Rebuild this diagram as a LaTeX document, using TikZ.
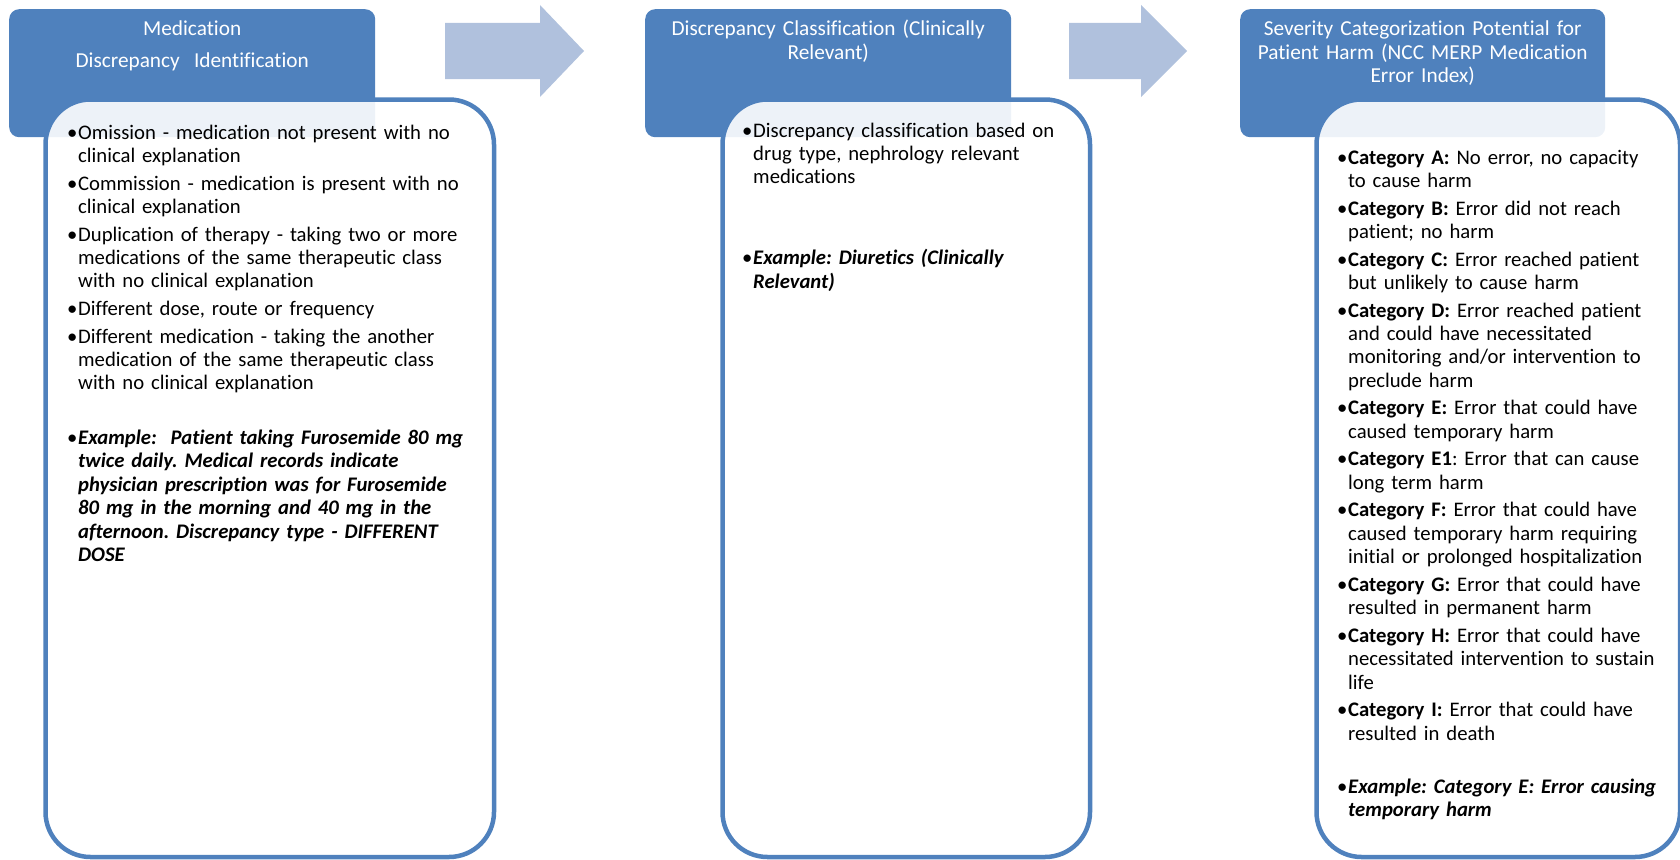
\documentclass[tikz,border=0pt]{standalone}
\usepackage{fontspec}
\setmainfont{Carlito}[Ligatures=NoCommon]
\usetikzlibrary{positioning}
\definecolor{hdrblue}{HTML}{4F81BD}
\definecolor{arrblue}{HTML}{B0C1DD}
% bullet paragraphs with hanging indent
\newcommand{\fitem}{\noindent\hangindent=11pt\hangafter=1\makebox[11pt][l]{\textbullet}}
\newcommand{\bitem}{\par\vspace{4.2pt}\fitem}
\newcommand{\nl}{\hfil\break}
\newcommand{\exm}[1]{\textbf{\textit{#1}}}

\begin{document}
\frenchspacing
\begin{tikzpicture}[x=1pt,y=-1pt,
  hdrbox/.style={fill=hdrblue, rounded corners=10pt, anchor=north west},
  bodybox/.style={draw=hdrblue, line width=4.5pt, fill=white, fill opacity=0.9,
    rounded corners=45pt, anchor=north west},
  title/.style={text=white, text width=#1, align=center, anchor=base},
  bodytext/.style={text width=#1, anchor=base west,
    font=\fontsize{20.7}{23.4}\selectfont, execute at begin node=\raggedright}]
\tikzstyle{every node}+=[inner sep=0pt, font=\fontsize{21.3}{23.4}\selectfont]
\useasboundingbox (0,0) rectangle (1680,859);
% headers
\node[hdrbox, minimum width=366pt, minimum height=128pt] (hdr1) at (9,9) {};
\node[hdrbox, minimum width=366pt, minimum height=128pt] (hdr2) at (645,9) {};
\node[hdrbox, minimum width=365pt, minimum height=128pt] (hdr3) at (1240,9) {};
% bodies
\node[bodybox, minimum width=448.5pt, minimum height=757.5pt] (body1) at (43.25,97.25) {};
\node[bodybox, minimum width=367.5pt, minimum height=757.5pt] (body2) at (720.25,97.25) {};
\node[bodybox, minimum width=363.5pt, minimum height=757.5pt] (body3) at (1314.25,97.25) {};
% arrows
\fill[arrblue] (445,23) -- (540,23) -- (540,5) -- (584,51) -- (540,97) -- (540,79) -- (445,79) -- cycle;
\fill[arrblue] (1069,23) -- (1141,23) -- (1141,5) -- (1187,51) -- (1141,97) -- (1141,79) -- (1069,79) -- cycle;
% titles
\node[title=360pt] (title1) at ([yshift=-27pt]hdr1.north)
  {Medication\\[8.6pt]Discrepancy~ Identification};
\node[title=360pt] (title2) at ([yshift=-27pt]hdr2.north)
  {Discrepancy Classification (Clinically\\Relevant)};
\node[title=360pt] (title3) at ([yshift=-27pt]hdr3.north)
  {Severity Categorization Potential for\\Patient Harm (NCC MERP Medication\\Error Index)};
% body texts
\node[bodytext=420pt] (text1) at (67,139) {%
  \fitem Omission - medication not present with no\nl clinical explanation
  \bitem Commission - medication is present with no\nl clinical explanation
  \bitem Duplication of therapy - taking two or more\nl medications of the same therapeutic class\nl with no clinical explanation
  \bitem Different dose, route or frequency
  \bitem Different medication - taking the another\nl medication of the same therapeutic class\nl with no clinical explanation
  \par\vspace{27pt}
  \bitem \exm{Example:~ Patient taking Furosemide 80 mg\nl twice daily. Medical records indicate\nl physician prescription was for Furosemide\nl 80 mg in the morning and 40 mg in the\nl afternoon. Discrepancy type - DIFFERENT\nl DOSE}\par};
\node[bodytext=335pt] (text2) at (742,137) {%
  \fitem Discrepancy classification based on\nl drug type, nephrology relevant\nl medications
  \par\vspace{53.4pt}
  \bitem \exm{Example: Diuretics (Clinically\nl Relevant)}\par};
\node[bodytext=335pt] (text3) at (1337,164) {%
  \fitem \textbf{Category A:} No error, no capacity\nl to cause harm
  \bitem \textbf{Category B:} Error did not reach\nl patient; no harm
  \bitem \textbf{Category C:} Error reached patient\nl but unlikely to cause harm
  \bitem \textbf{Category D:} Error reached patient\nl and could have necessitated\nl monitoring and/or intervention to\nl preclude harm
  \bitem \textbf{Category E:} Error that could have\nl caused temporary harm
  \bitem \textbf{Category E1}: Error that can cause\nl long term harm
  \bitem \textbf{Category F:} Error that could have\nl caused temporary harm requiring\nl initial or prolonged hospitalization
  \bitem \textbf{Category G:} Error that could have\nl resulted in permanent harm
  \bitem \textbf{Category H:} Error that could have\nl necessitated intervention to sustain\nl life
  \bitem \textbf{Category I:} Error that could have\nl resulted in death
  \par\vspace{25.5pt}
  \bitem \exm{Example: Category E: Error causing\nl temporary harm}\par};
\end{tikzpicture}
\end{document}
